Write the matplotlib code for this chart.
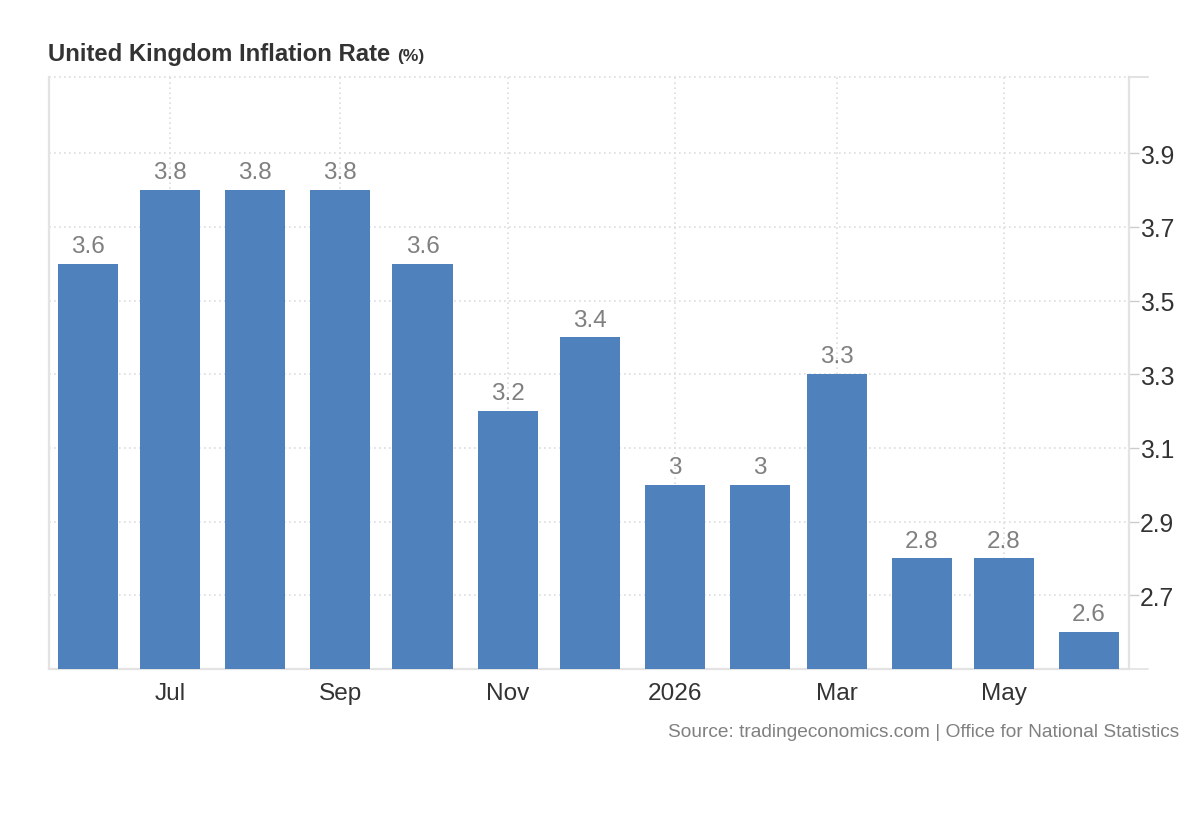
import datetime as dt
import matplotlib
matplotlib.use("Agg")
import matplotlib.pyplot as plt
import matplotlib.dates as mdates
from matplotlib.lines import Line2D

plt.rcParams['font.family'] = ['Liberation Sans', 'DejaVu Sans']

# ---- data ----
months = ["2025-06", "2025-07", "2025-08", "2025-09", "2025-10", "2025-11", "2025-12",
          "2026-01", "2026-02", "2026-03", "2026-04", "2026-05", "2026-06"]
values = [3.6, 3.8, 3.8, 3.8, 3.6, 3.2, 3.4, 3.0, 3.0, 3.3, 2.8, 2.8, 2.6]
value_labels = ["3.6", "3.8", "3.8", "3.8", "3.6", "3.2", "3.4", "3", "3", "3.3", "2.8", "2.8", "2.6"]
xtick_months = ["2025-07", "2025-09", "2025-11", "2026-01", "2026-03", "2026-05"]
xtick_labels = ["Jul", "Sep", "Nov", "2026", "Mar", "May"]
yticks = [2.7, 2.9, 3.1, 3.3, 3.5, 3.7, 3.9]
ytick_labels = ["2.7", "2.9", "3.1", "3.3", "3.5", "3.7", "3.9"]

title = "United Kingdom Inflation Rate"
unit = "(%)"
source = "Source: tradingeconomics.com | Office for National Statistics"

def to_num(s):
    y, m = s.split("-")
    return mdates.date2num(dt.datetime(int(y), int(m), 1))

x = [to_num(m) for m in months]

W, H = 1200, 820
fig = plt.figure(figsize=(W / 100, H / 100), dpi=100)
ax = fig.add_axes([49 / W, 1 - 670 / H, (1129 - 49) / W, (670 - 78) / H])

bar_color = "#4f81bd"
ax.bar(x, [v - 2.5 for v in values], bottom=2.5, width=21.9, color=bar_color, zorder=3)

for xi, v, lab in zip(x, values, value_labels):
    ax.annotate(lab, (xi, v), xytext=(0, 5), textcoords="offset points",
                ha="center", va="bottom", fontsize=17.5, color="#808080", zorder=4)

ax.set_ylim(2.5, 4.107)
ax.set_xlim(x[0] - 14.2, x[-1] + 14.6)

ax.yaxis.tick_right()
ax.set_yticks(yticks)
ax.set_yticklabels(ytick_labels)
ax.set_xticks([to_num(m) for m in xtick_months])
ax.set_xticklabels(xtick_labels)

ax.tick_params(axis="y", which="both", length=7, width=1, color="#cccccc",
               labelsize=17.8, labelcolor="#333333", pad=1)
ax.tick_params(axis="x", which="both", length=0, labelsize=17.6,
               labelcolor="#333333", pad=9.5)

ax.grid(True, axis="both", linestyle=(0, (1, 2)), color="#dddddd", linewidth=1.2, zorder=0)
ax.axhline(4.107, linestyle=(0, (1, 2)), color="#dddddd", linewidth=1.2, zorder=0, clip_on=False)

ax.spines["top"].set_visible(False)
for side in ["left", "right", "bottom"]:
    ax.spines[side].set_color("#e3e3e3")
    ax.spines[side].set_linewidth(1.6)

# extended axis line and top tick on the right
fig.add_artist(Line2D([1129 / W, 1148 / W], [1 - 670 / H, 1 - 670 / H], color="#e3e3e3", lw=1.2))
fig.add_artist(Line2D([1129 / W, 1148 / W], [1 - 78 / H, 1 - 78 / H], color="#dddddd", lw=1.2))

t = fig.text(48 / W, 1 - 55 / H, title, fontsize=17.2, fontweight="bold", color="#333333",
             ha="left", va="center")
fig.canvas.draw()
bb = t.get_window_extent(fig.canvas.get_renderer())
fig.text((bb.x1 + 7) / W, 1 - 56 / H, unit, fontsize=12.5, fontweight="bold", color="#333333",
         ha="left", va="center")
fig.text(1179 / W, 1 - 733 / H, source, fontsize=13.8, color="#808080", ha="right", va="center")

fig.savefig("out.png", dpi=100, facecolor="white")
